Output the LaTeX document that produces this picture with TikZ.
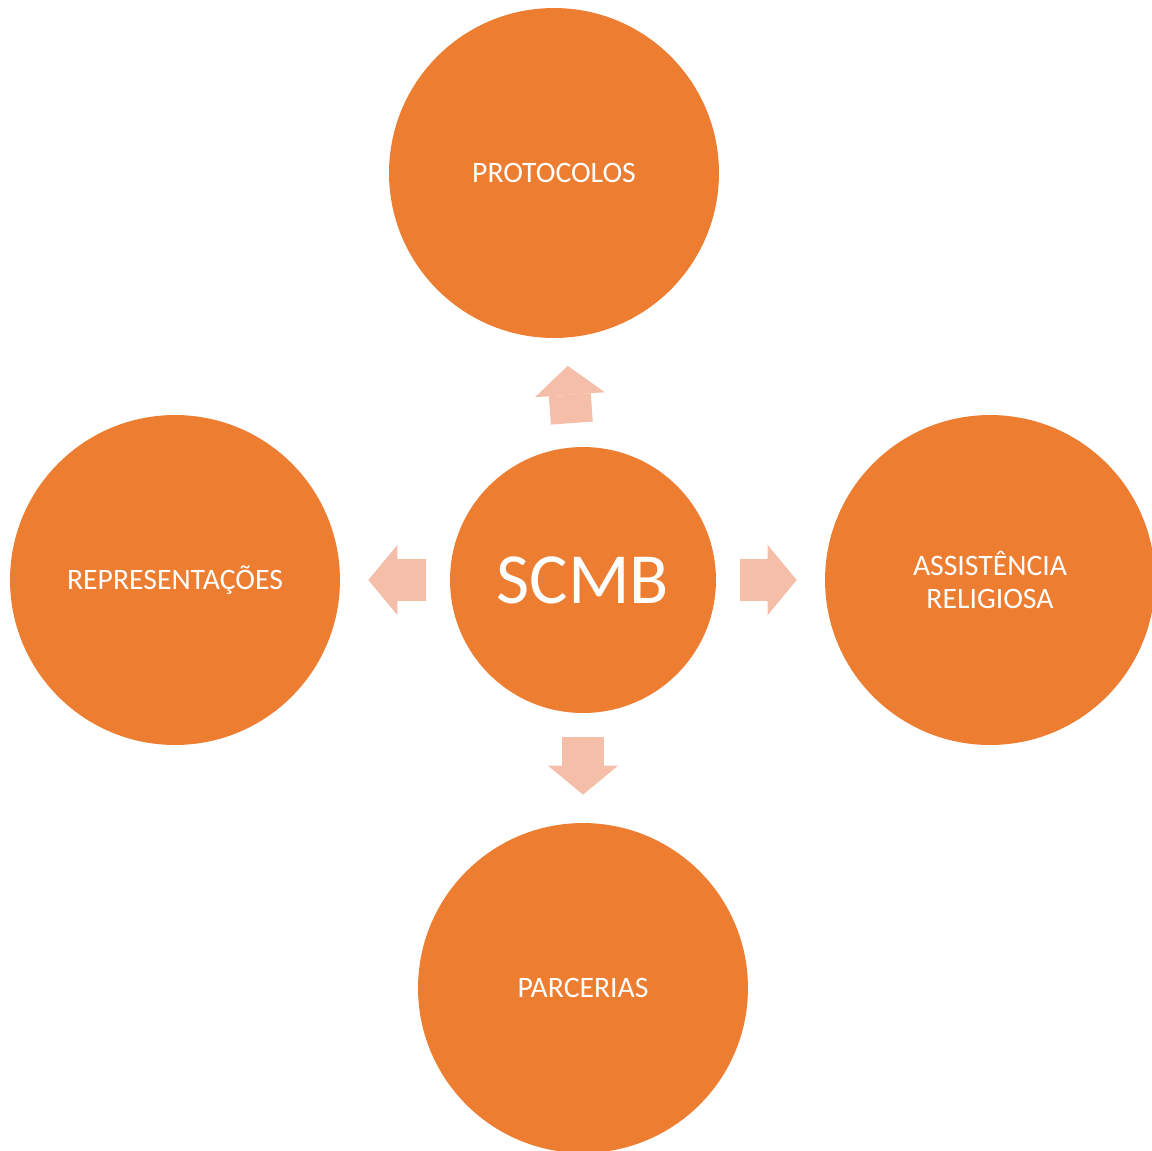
\documentclass[tikz,border=0pt]{standalone}
\usepackage{fontspec}
\setmainfont{Carlito}
\usetikzlibrary{arrows.meta}
\definecolor{orangefill}{HTML}{ED7D31}
\definecolor{arrowfill}{HTML}{F4BEA9}
\begin{document}
\begin{tikzpicture}[x=0.02cm, y=-0.02cm,
        topic/.style={circle, fill=orangefill, text=white, minimum size=6.6cm, inner sep=0pt, align=center, font=\fontsize{16.9}{18.4}\selectfont},
        blockarrow/.style={draw=arrowfill, line width=0.84cm, -{Triangle[width=1.4cm, length=0.58cm, line width=0pt, fill=arrowfill]}, shorten <=0.48cm, shorten >=0.56cm}]
        \useasboundingbox (0,0) rectangle (1152,1150);
        \node[topic, minimum size=5.32cm, font=\fontsize{41}{48}\selectfont] (scmb) at (583,580) {SCMB};
        \node[topic] (protocolos) at (554,173) {PROTOCOLOS};
        \node[topic] (representacoes) at (175,580) {REPRESENTAÇÕES};
        \node[topic] (assistencia) at (990,580) {ASSISTÊNCIA\\RELIGIOSA};
        \node[topic] (parcerias) at (583,988) {PARCERIAS};
        \draw[blockarrow] (scmb) -- (protocolos);
        \draw[blockarrow] (scmb) -- (representacoes);
        \draw[blockarrow] (scmb) -- (assistencia);
        \draw[blockarrow] (scmb) -- (parcerias);
    \end{tikzpicture}
\end{document}
